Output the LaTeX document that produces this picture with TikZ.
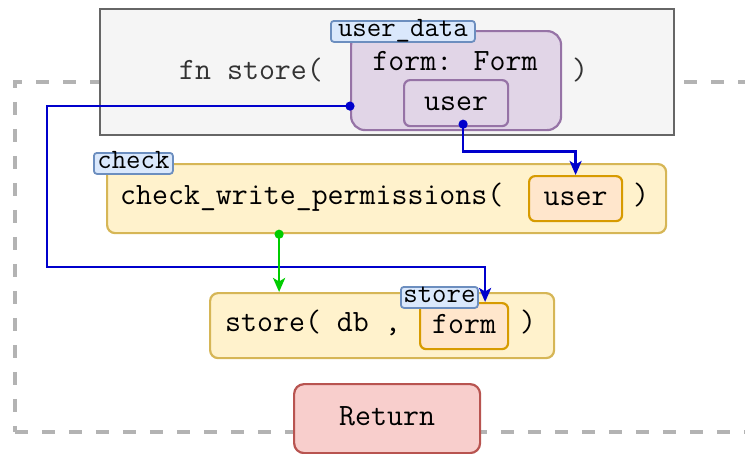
\documentclass[tikz,border=0pt]{standalone}
\usetikzlibrary{arrows.meta,positioning}

\definecolor{fnfill}{HTML}{F5F5F5}
\definecolor{fndraw}{HTML}{666666}
\definecolor{argfill}{HTML}{E1D5E7}
\definecolor{argdraw}{HTML}{9673A6}
\definecolor{callfill}{HTML}{FFF2CC}
\definecolor{calldraw}{HTML}{D6B656}
\definecolor{placefill}{HTML}{FFE6CC}
\definecolor{placedraw}{HTML}{D79B00}
\definecolor{tagfill}{HTML}{DAE8FC}
\definecolor{tagdraw}{HTML}{6C8EBF}
\definecolor{retfill}{HTML}{F8CECC}
\definecolor{retdraw}{HTML}{B85450}
\definecolor{flowblue}{HTML}{0000CC}
\definecolor{flowgreen}{HTML}{00CC00}
\definecolor{scopegray}{HTML}{B3B3B3}

\begin{document}
\begin{tikzpicture}[
      x=1pt,y=-1pt,
      code/.style={
         font=\ttfamily\fontsize{31}{34}\selectfont,
         text height=20pt,
         text depth=6pt,
         inner sep=0pt
      },
      boxsize/.style 2 args={minimum width=#1pt, minimum height=#2pt},
      area/.style={
         rectangle,
         code,
         anchor=north west,
         line width=2.2pt
      },
      scopebox/.style={
         area,
         draw=scopegray,
         line width=3.5pt,
         dash pattern=on 13pt off 14pt
      },
      fnbox/.style={area, draw=fndraw, fill=fnfill},
      argbox/.style={area, rounded corners=14pt, draw=argdraw, fill=argfill},
      callbox/.style={area, rounded corners=8pt, draw=calldraw, fill=callfill},
      placebox/.style={area, rounded corners=6pt, draw=placedraw, fill=placefill},
      retbox/.style={area, rounded corners=10pt, draw=retdraw, fill=retfill},
      tag/.style={
         area,
         rounded corners=3pt,
         draw=tagdraw,
         fill=tagfill,
         line width=1.8pt,
         font=\ttfamily\fontsize{28}{30}\selectfont,
         text height=15pt,
         text depth=4pt
      },
      flow/.style={
         line width=2.6pt,
         {Circle[length=9pt]}-{Stealth[length=14pt,width=12pt,inset=3.5pt]},
         shorten <=-4.5pt
      }
   ]
   \useasboundingbox (0,0) rectangle (745,453);
   \clip (0,0) rectangle (745,453);

   % outer dashed scope
   \node (scope) [scopebox, boxsize={760}{350}] at (13,80) {};

   % signature
   \node (fn) [fnbox, boxsize={574}{126}] at (99,8) {};
   \node (fntext) [code, text=black!80, anchor=west] at (179,72) {fn store(};
   \node (fnclose) [code, text=black!80] at (580,72) {)};
   \node (udata) [argbox, boxsize={210}{99}] at (350,30) {};
   \node (form) [code] at (455,63) {form: Form};
   \node (uin) [argbox, rounded corners=6pt, boxsize={104}{46}] at (403,79) {user};
   \node (tagdata) [tag, boxsize={144}{21}] at (330,20) {user\_data};

   % permission check
   \node (check) [callbox, boxsize={559}{69}] at (106,163) {};
   \node (checktext) [code, anchor=west] at (120,197) {check\_write\_permissions(};
   \node (cuser) [placebox, boxsize={93}{45}] at (528,175) {user};
   \node (checkclose) [code] at (641,197) {)};
   \node (tagcheck) [tag, boxsize={79}{21}] at (93,152) {check};

   % store call
   \node (store) [callbox, boxsize={344}{65}] at (209,292) {};
   \node (storetext) [code, anchor=west] at (225,324) {store( db ,};
   \node (sform) [placebox, boxsize={88}{46}] at (419,302) {form};
   \node (storeclose) [code] at (528,324) {)};

   % return
   \node (ret) [retbox, boxsize={186}{69}] at (293,383) {Return};

   % flows
   \coordinate (bend) at (47,267);
   \coordinate (greenstart) at ([xshift=-107.5pt]check.south);
   \draw[flow, flowblue] ([yshift=-25.5pt]udata.west) -| (bend)
      -| ([xshift=21pt]sform.north);
   \draw[flow, flowblue] ([xshift=7pt,yshift=3pt]uin.south) -- ++(0,27)
      -| (cuser.north);
   \draw[flow, flowgreen] (greenstart) -- (greenstart |- store.north);

   \node (tagstore) [tag, boxsize={77}{21}] at (400,286) {store};
\end{tikzpicture}
\end{document}
